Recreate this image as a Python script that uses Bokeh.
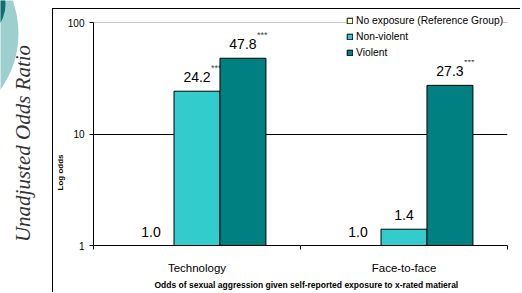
import math
from bokeh.plotting import figure
from bokeh.models import (ColumnDataSource, FactorRange, Range1d, LinearAxis, CategoricalAxis,
                          FixedTicker, NumeralTickFormatter, Legend, LegendItem, Span, Title, Spacer)
from bokeh.transform import dodge
from bokeh.layouts import row, column
from bokeh.core.properties import value
from bokeh.embed import file_html
from bokeh.resources import INLINE

# ---- data ----
categories = ["Technology", "Face-to-face"]
series_names = ["No exposure (Reference Group)", "Non-violent", "Violent"]
no_exposure = [1.0, 1.0]
non_violent = [24.2, 1.4]
violent = [47.8, 27.3]
stars_no_exposure = ["", ""]
stars_non_violent = ["***", ""]
stars_violent = ["***", "***"]
y_ticks = [1, 10, 100]
slide_title = "Unadjusted Odds Ratio"
y_title = "Log odds"
x_title = "Odds of sexual aggression given self-reported exposure to x-rated matieral"

colors = ["#FFFFCC", "#33CCCC", "#008080"]
FONT = "Liberation Sans"

# ---- left decorative strip (slide background) ----
LW, H = 52, 293
left = figure(width=LW, height=H, x_range=Range1d(0, LW), y_range=Range1d(0, H),
              output_backend="svg", toolbar_location=None,
              x_axis_location=None, y_axis_location=None,
              min_border=0, min_border_left=0, min_border_right=0,
              min_border_top=0, min_border_bottom=0)
left.outline_line_color = None
left.grid.visible = False
left.background_fill_color = "white"
left.border_fill_color = "white"
left.circle(x=[-79], y=[260], radius=97, fill_color="#9dcfcf", line_color=None)
left.circle(x=[-30], y=[289], radius=35, fill_color="#0f6e6e", line_color=None)
left.text(x=[22], y=[150], text=[slide_title], angle=math.pi / 2,
          text_align="center", text_baseline="middle",
          text_font=value("Liberation Serif"), text_font_style="italic",
          text_font_size="21px", text_color="#333333")

# ---- main chart (box starts at y=8 with a black top/left border) ----
MW, MH = 468, 284
y_top = 10 ** (2 + 13 / 111.5)   # frame reaches the box top; 100 sits 13px lower
p = figure(width=MW, height=MH, x_range=FactorRange(*categories),
           y_axis_type="log", y_range=Range1d(1, y_top),
           x_axis_location=None, output_backend="svg", toolbar_location=None,
           min_border_left=39, min_border_right=14, min_border_top=0, min_border_bottom=48)
p.styles = {"border-top": "1px solid black", "border-left": "1px solid black"}
p.outline_line_color = None
p.background_fill_color = "white"
p.border_fill_color = "white"
p.xgrid.visible = False
p.ygrid.ticker = FixedTicker(ticks=[10])
p.ygrid.grid_line_color = "black"
p.ygrid.grid_line_width = 1

yax = p.yaxis[0]
yax.ticker = FixedTicker(ticks=y_ticks)
yax.formatter = NumeralTickFormatter(format="0")
yax.bounds = (y_ticks[0], y_ticks[-1])
yax.axis_line_color = "black"
yax.major_tick_out = 4
yax.major_tick_in = 0
yax.minor_tick_line_color = None
yax.major_label_standoff = 5
yax.major_label_text_font = FONT
yax.major_label_text_font_size = "10px"
yax.major_label_text_color = "black"

# boundary tick marks between categories (no labels)
tick_axis = LinearAxis(ticker=FixedTicker(ticks=list(range(len(categories) + 1))))
tick_axis.axis_line_color = "black"
tick_axis.major_tick_out = 4
tick_axis.major_tick_in = 0
tick_axis.minor_tick_line_color = None
tick_axis.major_label_text_font_size = "0px"
tick_axis.major_label_standoff = 0
p.add_layout(tick_axis, "below")

cat_axis = CategoricalAxis()
cat_axis.axis_line_color = None
cat_axis.major_tick_line_color = None
cat_axis.minor_tick_line_color = None
cat_axis.major_label_standoff = 6
cat_axis.major_label_text_font = FONT
cat_axis.major_label_text_font_size = "11.5px"
cat_axis.major_label_text_color = "black"
p.add_layout(cat_axis, "below")

xt = Title(text=x_title, align="left", offset=61, standoff=3,
           text_font=FONT, text_font_style="bold", text_font_size="8.5px", text_color="black")
p.add_layout(xt, "below")
yt = Title(text=y_title, align="left", offset=55, standoff=0,
           text_font=FONT, text_font_style="bold", text_font_size="8px", text_color="black")
p.add_layout(yt, "left")

span100 = Span(location=y_ticks[-1], dimension="width", line_color="#c8c8c8", line_width=1,
               level="underlay")
p.add_layout(span100)

bar_w = 0.222
offsets = [-bar_w, 0.0, bar_w]
series = [no_exposure, non_violent, violent]
stars = [stars_no_exposure, stars_non_violent, stars_violent]
items = []
for name, vals, st, off, col in zip(series_names, series, stars, offsets, colors):
    src = ColumnDataSource(dict(cat=categories, val=vals,
                                lab=["%.1f" % v for v in vals], st=st))
    r = p.vbar(x=dodge("cat", off, range=p.x_range), top="val", bottom=1, width=bar_w,
               source=src, fill_color=col, line_color="black", line_width=1)
    items.append(LegendItem(label=name, renderers=[r]))
    p.text(x=dodge("cat", off, range=p.x_range), y="val", text="lab", source=src,
           y_offset=-14, text_align="center", text_baseline="alphabetic",
           text_font=value(FONT), text_font_size="14px", text_color="black")
    p.text(x=dodge("cat", off, range=p.x_range), y="val", text="st", source=src,
           x_offset=14, y_offset=-23, text_align="left", text_baseline="alphabetic",
           text_font=value(FONT), text_font_size="9px", text_color="#444444")

legend = Legend(items=items, location=(253, 185))
legend.label_text_font = FONT
legend.label_text_font_size = "10.3px"
legend.label_text_color = "black"
legend.label_height = 16
legend.glyph_height = 7
legend.glyph_width = 7
legend.label_standoff = 3
legend.spacing = 0
legend.padding = 0
legend.margin = 0
legend.border_line_color = None
legend.background_fill_color = "white"
legend.background_fill_alpha = 1.0
p.add_layout(legend)

main = column(Spacer(width=MW + 1, height=8), p, spacing=0)
layout = row(left, main, spacing=0)
open("out.html", "w").write(file_html(layout, INLINE))
